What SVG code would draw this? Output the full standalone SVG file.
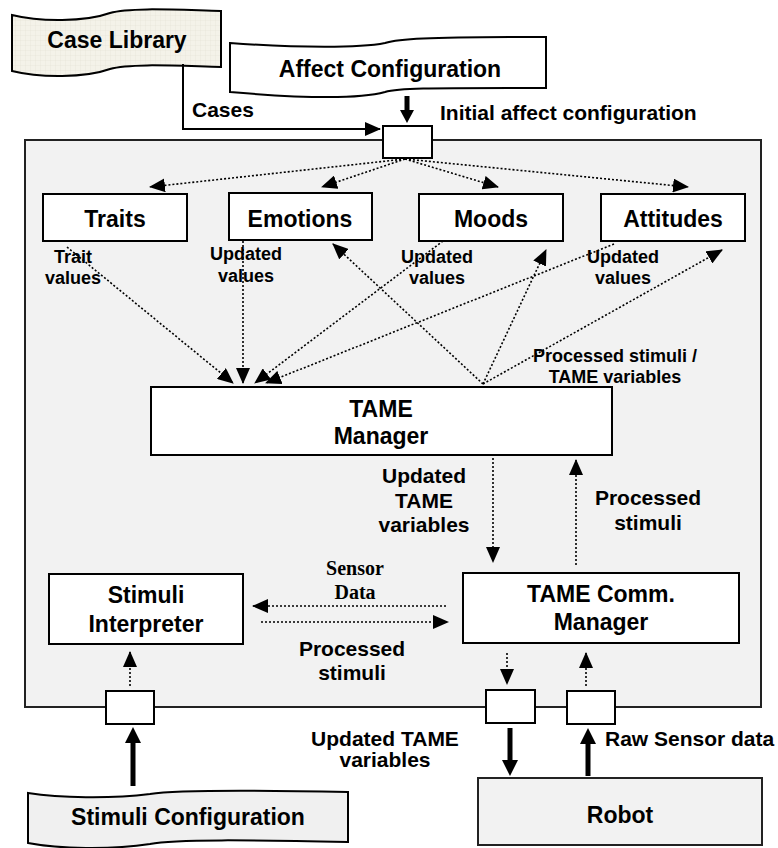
<svg xmlns="http://www.w3.org/2000/svg" width="778" height="848" viewBox="0 0 778 848">
  <defs>
    <style>
      .box { fill: #ffffff; stroke: #000000; stroke-width: 2; }
      .port { fill: #ffffff; stroke: #000000; stroke-width: 2; }
      .dot { fill: none; stroke: #000000; stroke-width: 1.6; stroke-dasharray: 2 2; }
      .solid { fill: none; stroke: #000000; stroke-width: 2; }
      .thick { fill: none; stroke: #000000; stroke-width: 5; }
      .head { fill: #000000; }
      text { font-family: "Liberation Sans", Arial, sans-serif; font-weight: bold; fill: #000000; }
      .t-node { font-size: 23px; text-anchor: middle; }
      .t-sm { font-size: 18px; text-anchor: middle; }
      .t-md { font-size: 21px; }
      .mid { text-anchor: middle; }
      .t-serif { font-family: "Liberation Serif", "Times New Roman", serif; font-size: 20px; text-anchor: middle; }
    </style>
    <marker id="arr" markerUnits="userSpaceOnUse" viewBox="0 0 16 14" refX="15" refY="7" markerWidth="16" markerHeight="14" orient="auto">
      <path d="M0,0 L16,7 L0,14 Z" fill="#000000"/>
    </marker>
    <pattern id="grid" width="5" height="5" patternUnits="userSpaceOnUse">
      <rect width="5" height="5" fill="#f4f2e9"/>
      <path d="M5,0 L0,0 L0,5" fill="none" stroke="#e4e1d4" stroke-width="0.6"/>
    </pattern>
  </defs>

  <!-- outer TAME module -->
  <g id="tame-module">
    <rect x="25" y="140" width="736" height="567" fill="#f2f2f2" stroke="#222222" stroke-width="2"/>
  </g>

  <!-- external data sources -->
  <g id="case-library">
    <path d="M12,15 C40,22 85,22 110,13 C130,7 180,10 221,11 L221,67 C180,66 130,63 110,69 C85,78 40,78 12,71 Z" fill="url(#grid)" stroke="#000000" stroke-width="2"/>
    <text class="t-node" x="117" y="48">Case Library</text>
  </g>

  <g id="affect-configuration">
    <path d="M230,43 C300,48 360,48 385,43 C398,39 420,37 546,37 L546,88 C420,88 398,88 385,92 C360,99 300,98 230,92 Z" fill="#ffffff" stroke="#000000" stroke-width="2"/>
    <text class="t-node" x="390" y="77">Affect Configuration</text>
  </g>

  <g id="stimuli-configuration">
    <path d="M28,793 C60,798 110,799 150,794 C175,790 250,790 348,792 L348,842 C250,840 175,839 150,844 C110,850 60,849 28,843 Z" fill="#f0f0f0" stroke="#000000" stroke-width="2"/>
    <text class="t-node" x="188" y="825">Stimuli Configuration</text>
  </g>

  <!-- affect component nodes -->
  <g id="traits">
    <rect class="box" x="43" y="194" width="144" height="47"/>
    <text class="t-node" x="115" y="227">Traits</text>
  </g>
  <g id="emotions">
    <rect class="box" x="229" y="193" width="143" height="47"/>
    <text class="t-node" x="300" y="227">Emotions</text>
  </g>
  <g id="moods">
    <rect class="box" x="419" y="194" width="144" height="47"/>
    <text class="t-node" x="491" y="227">Moods</text>
  </g>
  <g id="attitudes">
    <rect class="box" x="601" y="194" width="144" height="47"/>
    <text class="t-node" x="673" y="227">Attitudes</text>
  </g>

  <g id="tame-manager">
    <rect class="box" x="151" y="387" width="461" height="68"/>
    <text class="t-node" x="381" y="417">TAME</text>
    <text class="t-node" x="381" y="444">Manager</text>
  </g>

  <g id="stimuli-interpreter">
    <rect class="box" x="49" y="574" width="194" height="70"/>
    <text class="t-node" x="146" y="603">Stimuli</text>
    <text class="t-node" x="146" y="632">Interpreter</text>
  </g>

  <g id="tame-comm-manager">
    <rect class="box" x="463" y="573" width="276" height="70"/>
    <text class="t-node" x="601" y="602">TAME Comm.</text>
    <text class="t-node" x="601" y="630">Manager</text>
  </g>

  <g id="robot">
    <rect x="478" y="778" width="284" height="67" fill="#f2f2f2" stroke="#222222" stroke-width="2"/>
    <text class="t-node" x="620" y="823">Robot</text>
  </g>

  <!-- ports on the module boundary -->
  <g id="port-affect"><rect class="port" x="383" y="126" width="49" height="32"/></g>
  <g id="port-stimuli"><rect class="port" x="106" y="691" width="48" height="33"/></g>
  <g id="port-out"><rect class="port" x="486" y="690" width="49" height="33"/></g>
  <g id="port-in"><rect class="port" x="567" y="691" width="48" height="33"/></g>

  <!-- connectors -->
  <g id="connectors">
    <!-- cases from the library -->
    <path class="solid" d="M183,64 L183,129 L380,129" marker-end="url(#arr)"/>
    <!-- affect configuration into the port -->
    <line class="thick" x1="407" y1="96" x2="407" y2="111"/>
    <polygon class="head" points="400,110 414,110 407,123"/>

    <!-- initial configuration fan-out -->
    <line class="dot" x1="405" y1="159" x2="150" y2="187" marker-end="url(#arr)"/>
    <line class="dot" x1="405" y1="159" x2="322" y2="187" marker-end="url(#arr)"/>
    <line class="dot" x1="405" y1="159" x2="498" y2="187" marker-end="url(#arr)"/>
    <line class="dot" x1="405" y1="159" x2="688" y2="187" marker-end="url(#arr)"/>

    <!-- component values into the manager -->
    <line class="dot" x1="67" y1="247" x2="233" y2="383" marker-end="url(#arr)"/>
    <line class="dot" x1="243" y1="241" x2="243" y2="383" marker-end="url(#arr)"/>
    <line class="dot" x1="443" y1="241" x2="255" y2="383" marker-end="url(#arr)"/>
    <line class="dot" x1="614" y1="244" x2="266" y2="383" marker-end="url(#arr)"/>

    <!-- processed stimuli back to the components -->
    <line class="dot" x1="483" y1="384" x2="333" y2="244" marker-end="url(#arr)"/>
    <line class="dot" x1="483" y1="384" x2="546" y2="250" marker-end="url(#arr)"/>
    <line class="dot" x1="483" y1="384" x2="722" y2="250" marker-end="url(#arr)"/>

    <!-- manager and comm. manager -->
    <line class="dot" x1="493" y1="458" x2="493" y2="562" marker-end="url(#arr)"/>
    <line class="dot" x1="576" y1="565" x2="576" y2="460" marker-end="url(#arr)"/>

    <!-- sensor data / processed stimuli -->
    <line class="dot" x1="446" y1="606" x2="253" y2="606" marker-end="url(#arr)"/>
    <line class="dot" x1="261" y1="622" x2="448" y2="622" marker-end="url(#arr)"/>

    <!-- inner port links -->
    <line class="dot" x1="130" y1="686" x2="130" y2="652" marker-end="url(#arr)"/>
    <line class="dot" x1="507" y1="653" x2="507" y2="684" marker-end="url(#arr)"/>
    <line class="dot" x1="586" y1="686" x2="586" y2="653" marker-end="url(#arr)"/>

    <!-- outer thick links -->
    <line class="thick" x1="133" y1="786" x2="133" y2="742"/>
    <polygon class="head" points="125,743 141,743 133,727"/>
    <line class="thick" x1="510" y1="728" x2="510" y2="761"/>
    <polygon class="head" points="502,760 518,760 510,776"/>
    <line class="thick" x1="588" y1="776" x2="588" y2="743"/>
    <polygon class="head" points="580,744 596,744 588,728"/>
  </g>

  <!-- connector labels -->
  <g id="labels">
    <text class="t-md" x="192" y="117">Cases</text>
    <text class="t-md" x="440" y="120">Initial affect configuration</text>

    <text class="t-sm" x="73" y="263">Trait</text>
    <text class="t-sm" x="73" y="284">values</text>
    <text class="t-sm" x="246" y="260">Updated</text>
    <text class="t-sm" x="246" y="282">values</text>
    <text class="t-sm" x="437" y="263">Updated</text>
    <text class="t-sm" x="437" y="284">values</text>
    <text class="t-sm" x="623" y="263">Updated</text>
    <text class="t-sm" x="623" y="284">values</text>

    <text class="t-sm" x="615" y="362">Processed stimuli /</text>
    <text class="t-sm" x="615" y="383">TAME variables</text>

    <text class="t-md mid" x="424" y="483">Updated</text>
    <text class="t-md mid" x="424" y="508">TAME</text>
    <text class="t-md mid" x="424" y="532">variables</text>

    <text class="t-md mid" x="648" y="505">Processed</text>
    <text class="t-md mid" x="648" y="530">stimuli</text>

    <text class="t-serif" x="355" y="575">Sensor</text>
    <text class="t-serif" x="355" y="599">Data</text>

    <text class="t-md mid" x="352" y="656">Processed</text>
    <text class="t-md mid" x="352" y="680">stimuli</text>

    <text class="t-md mid" x="385" y="746">Updated TAME</text>
    <text class="t-md mid" x="385" y="767">variables</text>

    <text class="t-md" x="605" y="746">Raw Sensor data</text>
  </g>
</svg>
